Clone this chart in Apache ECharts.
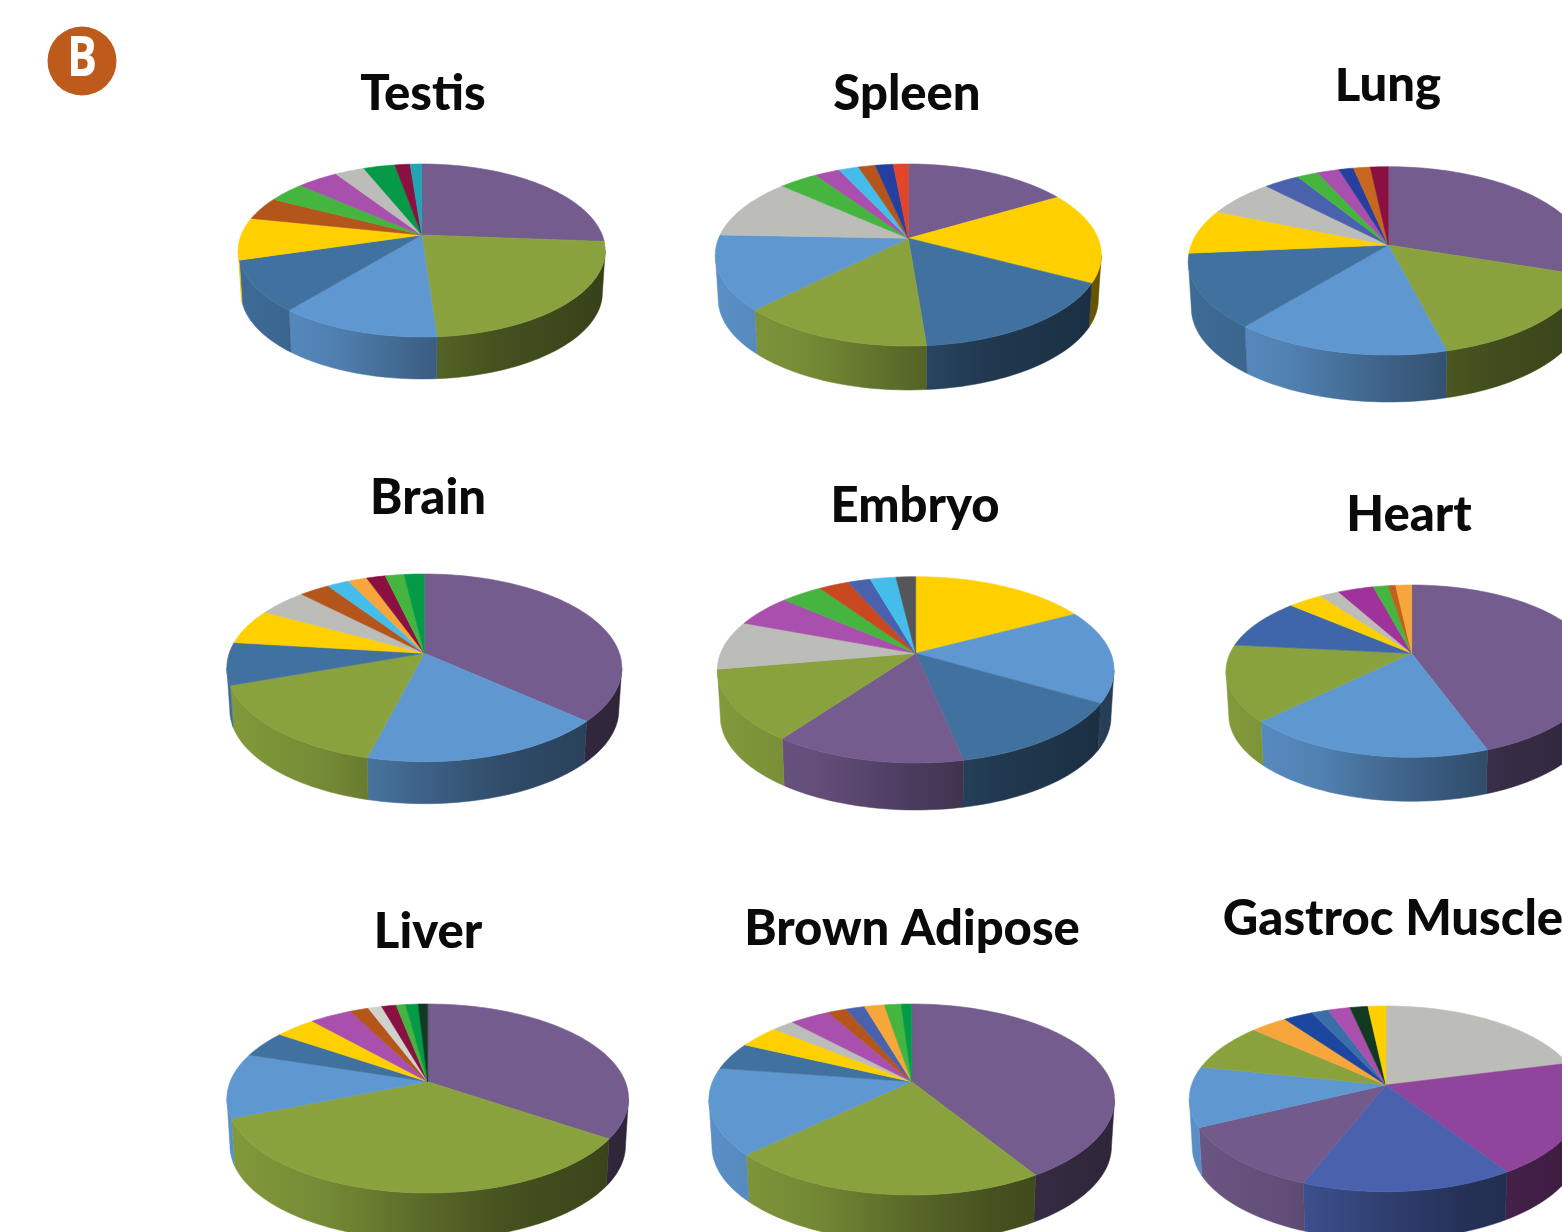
<!DOCTYPE html>
<html>
<head>
<meta charset="utf-8">
<title>Tissue pie charts</title>
<style>html,body{margin:0;padding:0;background:#fff}#chart{width:1562px;height:1232px}</style>
<script src="https://cdn.jsdelivr.net/npm/echarts@6/dist/echarts.min.js"></script>
</head>
<body>
<div id="chart"></div>
<script>
// Slice palette
const PURPLE = '#745c8f', GREEN = '#89a23e', SKY = '#5f98d1', STEEL = '#41729f', GOLD = '#ffd000',
      RUST = '#b4561c', LIME = '#45b53f', ORCHID = '#a94fae', GREY = '#bcbcb8', EMERALD = '#049a48',
      MAROON = '#8a1042', TEAL = '#1fa6b2', CYAN = '#44bdea', NAVY = '#253f9e', RED = '#e2452a',
      ORANGE = '#f7a63c', INDIGO = '#4a62ae', SLATE = '#55565a', BLACKGREEN = '#123a22';

// Tissue names
const tissues = ['Testis', 'Spleen', 'Lung', 'Brain', 'Embryo', 'Heart', 'Liver', 'Brown Adipose', 'Gastroc Muscle'];

// Slice shares, clockwise from twelve o'clock
const testisValues = [26.2, 22.7, 12.0, 9.5, 7.9, 4.3, 3.9, 4.3, 3.1, 3.3, 1.6, 1.2];
const spleenValues = [16.5, 16.3, 16.0, 13.7, 13.2, 11.0, 3.9, 2.5, 2.0, 1.7, 1.8, 1.5];
const lungValues   = [30.1, 15.9, 14.9, 12.7, 7.7, 6.5, 3.4, 2.0, 2.1, 1.4, 1.6, 1.7];
const brainValues  = [36.6, 17.4, 15.6, 7.3, 6.1, 4.7, 2.9, 2.1, 1.8, 1.8, 1.8, 1.9];
const embryoValues = [17.2, 16.2, 13.3, 13.2, 12.3, 8.5, 5.7, 4.0, 2.9, 2.2, 2.5, 1.9];
const heartValues  = [44.6, 18.0, 14.1, 9.8, 3.6, 2.1, 3.8, 1.6, 0.8, 1.7];
const liverValues  = [34.5, 34.3, 11.1, 4.6, 3.9, 4.0, 1.8, 1.3, 1.4, 0.9, 1.2, 0.9];
const adiposeValues = [41.2, 21.6, 14.5, 4.7, 3.9, 2.1, 3.8, 1.8, 1.8, 1.9, 1.6, 1.0];
const gastrocValues = [21.0, 19.8, 15.1, 11.8, 10.5, 8.3, 3.5, 2.8, 1.6, 2.1, 1.7, 1.7];
const allValues = [testisValues, spleenValues, lungValues, brainValues, embryoValues,
                   heartValues, liverValues, adiposeValues, gastrocValues];

// Slice colours, one list per tissue
const allColors = [
  [PURPLE, GREEN, SKY, STEEL, GOLD, RUST, LIME, ORCHID, GREY, EMERALD, MAROON, TEAL],
  [PURPLE, GOLD, STEEL, GREEN, SKY, GREY, LIME, ORCHID, CYAN, RUST, NAVY, RED],
  [PURPLE, GREEN, SKY, STEEL, GOLD, GREY, INDIGO, LIME, ORCHID, NAVY, '#c8681e', MAROON],
  [PURPLE, SKY, GREEN, STEEL, GOLD, GREY, RUST, CYAN, ORANGE, MAROON, LIME, EMERALD],
  [GOLD, SKY, STEEL, PURPLE, GREEN, GREY, ORCHID, LIME, '#c9481f', INDIGO, CYAN, SLATE],
  [PURPLE, SKY, GREEN, '#3f66a8', GOLD, GREY, '#a0329c', LIME, '#c0621c', ORANGE],
  [PURPLE, GREEN, SKY, STEEL, GOLD, ORCHID, RUST, '#d0d0cc', MAROON, LIME, EMERALD, BLACKGREEN],
  [PURPLE, GREEN, SKY, STEEL, GOLD, GREY, ORCHID, RUST, INDIGO, ORANGE, LIME, EMERALD],
  [GREY, '#90459c', INDIGO, '#725a8c', SKY, GREEN, ORANGE, '#1c46a0', '#3a6ea8', ORCHID, BLACKGREEN, GOLD]
];

// Placement of each disc: centre of the top face, half width, back and front reach, wall height
const discs = [
  { cx: 421.7, cy: 235.0, rx: 183.5, back: 71.0, front: 102.0, wall: 42 },
  { cx: 908.3, cy: 238.3, rx: 193.0, back: 74.3, front: 107.7, wall: 44 },
  { cx: 1388.3, cy: 245.0, rx: 200.0, back: 78.3, front: 110.0, wall: 47 },
  { cx: 424.3, cy: 653.3, rx: 197.5, back: 79.3, front: 108.4, wall: 42 },
  { cx: 915.7, cy: 653.3, rx: 198.3, back: 76.6, front: 109.7, wall: 47 },
  { cx: 1411.7, cy: 653.3, rx: 185.7, back: 68.3, front: 104.0, wall: 44 },
  { cx: 427.7, cy: 1081.7, rx: 200.8, back: 77.7, front: 111.3, wall: 47 },
  { cx: 911.7, cy: 1081.7, rx: 202.8, back: 77.7, front: 113.3, wall: 47 },
  { cx: 1386.0, cy: 1085.0, rx: 196.7, back: 79.0, front: 106.7, wall: 48 }
];

// Title anchors
const titleAnchors = [[423, 94], [907, 94], [1388, 85], [428, 498], [915, 506],
                      [1409, 515], [428, 932], [912, 929], [1393, 919]];

// Brightness of the wall from the left to the right of a disc
const wallShade = [[0, 0.95], [0.25, 0.85], [0.5, 0.64], [0.7, 0.5], [1, 0.4]];

// The lower edge of the wall sits further from the viewer, so it is drawn slightly narrower
const lowerEdgeScale = 0.985;

function shadeColor(hex, f) {
  const n = parseInt(hex.slice(1), 16);
  const c = [(n >> 16) & 255, (n >> 8) & 255, n & 255].map(v => Math.round(v * f));
  return 'rgb(' + c.join(',') + ')';
}

function foreshortening(d) {
  const q = d.front / d.back;
  return (q - 1) / (q + 1);
}

// Perspective projection of a rim point: the back of the disc is foreshortened
function rimPoint(d, share) {
  const t = share / 100 * 2 * Math.PI;
  const k = foreshortening(d);
  const a = d.rx * Math.sqrt(1 - k * k);
  const b = d.back * (1 + k);
  const X = Math.sin(t), Y = Math.cos(t), w = 1 + k * Y;
  return [d.cx + a * X / w, d.cy - b * Y / w];
}

// Start and end of a slice as cumulative shares
function sliceSpan(pie, slice) {
  const vals = allValues[pie];
  const total = vals.reduce((s, v) => s + v, 0);
  let start = 0;
  for (let i = 0; i < slice; i++) start += vals[i];
  return [start / total * 100, (start + vals[slice]) / total * 100];
}

function arcPoints(d, from, to) {
  const n = Math.max(2, Math.ceil((to - from) * 2));
  const pts = [];
  for (let i = 0; i <= n; i++) pts.push(rimPoint(d, from + (to - from) * i / n));
  return pts;
}

function renderTop(params, api) {
  const pie = api.value(0), slice = api.value(1);
  const d = discs[pie];
  const span = sliceSpan(pie, slice);
  const color = allColors[pie][slice];
  return {
    type: 'polygon',
    shape: { points: [[d.cx, d.cy]].concat(arcPoints(d, span[0], span[1])) },
    style: { fill: color, stroke: color, lineWidth: 0.6 }
  };
}

// Only the part of the rim between the two widest points faces the viewer
function renderWall(params, api) {
  const pie = api.value(0), slice = api.value(1);
  const d = discs[pie];
  const span = sliceSpan(pie, slice);
  const right = Math.acos(-foreshortening(d)) / (2 * Math.PI) * 100;
  const from = Math.max(span[0], right);
  const to = Math.min(span[1], 100 - right);
  if (to <= from) return null;
  const color = allColors[pie][slice];
  const rim = arcPoints(d, from, to);
  const lower = rim.map(p => [d.cx + (p[0] - d.cx) * lowerEdgeScale, p[1] + d.wall]).reverse();
  const fill = {
    type: 'linear', global: true,
    x: d.cx - d.rx, y: 0, x2: d.cx + d.rx, y2: 0,
    colorStops: wallShade.map(s => ({ offset: s[0], color: shadeColor(color, s[1]) }))
  };
  return {
    type: 'polygon',
    shape: { points: rim.concat(lower) },
    style: { fill: fill, stroke: fill, lineWidth: 0.5 }
  };
}

// One row per slice: tissue index, slice index, share
const sliceRows = [];
allValues.forEach((vals, p) => vals.forEach((v, s) => sliceRows.push([p, s, v])));

const option = {
  backgroundColor: '#ffffff',
  animation: false,
  title: tissues.map((name, i) => ({
    text: name,
    left: titleAnchors[i][0],
    top: titleAnchors[i][1],
    textAlign: 'center',
    textVerticalAlign: 'middle',
    padding: 0,
    textStyle: { fontFamily: 'Lato', fontWeight: 900, fontSize: 49, color: '#0a0a0a' }
  })),
  graphic: [
    { type: 'rect', z: 20, shape: { x: 1300, y: 40, width: 180, height: 28 }, style: { fill: '#ffffff' } },
    { type: 'circle', z: 21, shape: { cx: 82, cy: 61, r: 34.5 }, style: { fill: '#bd5a1c' } },
    {
      type: 'text', z: 22, x: 82, y: 60, scaleX: 0.8,
      style: { text: 'B', fill: '#ffffff', font: 'bold 56px "Open Sans"', textAlign: 'center', textVerticalAlign: 'middle' }
    }
  ],
  series: [
    { type: 'custom', name: 'walls', coordinateSystem: 'none', z: 2, silent: true, renderItem: renderWall, data: sliceRows },
    { type: 'custom', name: 'tops', coordinateSystem: 'none', z: 3, silent: true, renderItem: renderTop, data: sliceRows }
  ]
};

echarts.init(document.getElementById('chart'), null, { renderer: 'canvas' }).setOption(option);
</script>
</body>
</html>
